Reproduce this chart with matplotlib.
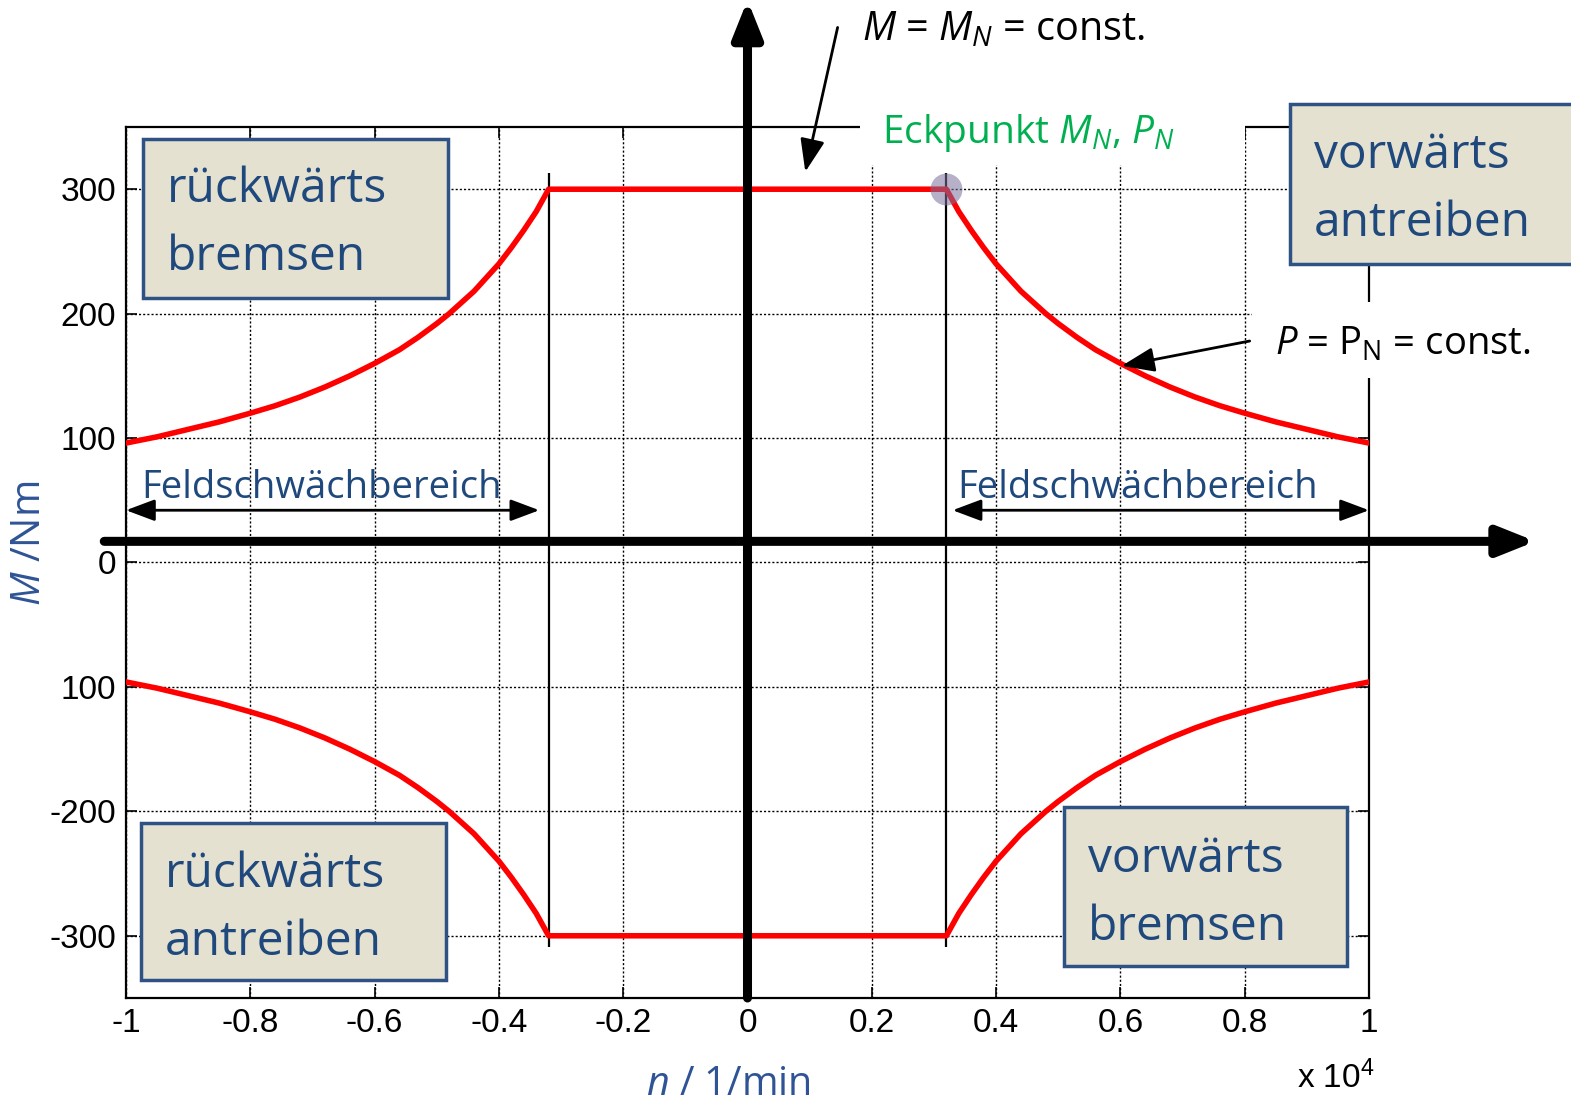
import matplotlib.pyplot as plt
import numpy as np
from matplotlib.patches import Rectangle

# Drehzahl in 10^4 1/min, Moment in Nm (rechte Haelfte)
n_eck = 0.32
M_N = 300
n_fw = [0.32, 0.34, 0.36, 0.38, 0.40, 0.42, 0.44, 0.46, 0.48, 0.50, 0.53, 0.56,
        0.60, 0.64, 0.68, 0.72, 0.76, 0.80, 0.85, 0.90, 0.95, 1.00]
M_fw = [300, 282, 267, 253, 240, 229, 218, 209, 200, 192, 181, 171,
        160, 150, 141, 133, 126, 120, 113, 107, 101, 96]

x_ticks = [-1, -0.8, -0.6, -0.4, -0.2, 0, 0.2, 0.4, 0.6, 0.8, 1]
x_labels = ['-1', '-0.8', '-0.6', '-0.4', '-0.2', '0', '0.2', '0.4', '0.6', '0.8', '1']
y_ticks = [300, 200, 100, 0, -100, -200, -300]
y_labels = ['300', '200', '100', '0', '100', '-200', '-300']

quadranten = [('rückwärts', 'bremsen'), ('vorwärts', 'antreiben'),
              ('rückwärts', 'antreiben'), ('vorwärts', 'bremsen')]

W, H = 1571, 1103
BLAU = '#1F497D'
LABEL_BLAU = '#2F5496'

plt.rcParams['font.family'] = ['Liberation Sans', 'DejaVu Sans']
plt.rcParams['mathtext.fontset'] = 'custom'
plt.rcParams['mathtext.rm'] = 'Open Sans'
plt.rcParams['mathtext.it'] = 'Open Sans:italic'


def px(x, y):
    # Pixel (von oben links) -> Figurkoordinaten
    return x / W, 1 - y / H


fig = plt.figure(figsize=(W / 100, H / 100), dpi=100)
ax = fig.add_axes([126 / W, 1 - 998 / H, (1369 - 126) / W, (998 - 127) / H])

n_r = np.array(n_fw)
M_r = np.array(M_fw)
n_all = np.concatenate([-n_r[::-1], n_r])
M_all = np.concatenate([M_r[::-1], M_r])

ax.plot(n_all, M_all, color='red', lw=4, zorder=4, solid_joinstyle='round')
ax.plot(n_all, -M_all, color='red', lw=4, zorder=4, solid_joinstyle='round')
ax.vlines([-n_eck, n_eck], -309, 313, color='k', lw=1.6, zorder=3)
ax.plot(n_eck, M_N, 'o', ms=23, color='#7a6f9c', alpha=0.55, mec='none', zorder=5)

ax.set_xlim(-1, 1)
ax.set_ylim(-350, 350)
ax.set_xticks(x_ticks)
ax.set_xticklabels(x_labels)
ax.set_yticks(y_ticks)
ax.set_yticklabels(y_labels)
ax.tick_params(direction='in', top=True, right=True, length=8, width=1.2,
               labelsize=24, pad=7)
ax.grid(True, color='k', ls=(0, (1.5, 1.5)), lw=1)
for s in ax.spines.values():
    s.set_linewidth(1.6)

# Achsenpfeile
pfeil = dict(arrowstyle='-|>,head_length=1.0,head_width=0.4', lw=6.5,
             color='k', mutation_scale=22, shrinkA=0, shrinkB=0)
ax.annotate('', xy=(0, 452), xytext=(0, -350), annotation_clip=False,
            arrowprops=pfeil, zorder=6)
ax.annotate('', xy=(1.268, 17), xytext=(-1.035, 17), annotation_clip=False,
            arrowprops=pfeil, zorder=6)

# Feldschwaechbereich
for x0, x1, xt in [(-1, -0.335, -0.975), (0.33, 1, 0.338)]:
    ax.annotate('', xy=(x1, 42), xytext=(x0, 42), annotation_clip=False,
                arrowprops=dict(arrowstyle='<|-|>,head_length=0.8,head_width=0.3', lw=2,
                                color='k', mutation_scale=22, shrinkA=0, shrinkB=0), zorder=6)
    ax.text(xt, 52, 'Feldschwächbereich', family='Open Sans', fontsize=27.5,
            color=BLAU, va='baseline', ha='left', zorder=6)

# Hinweise mit Pfeil
kl_pfeil = dict(arrowstyle='-|>,head_length=0.8,head_width=0.3', lw=2,
                color='k', mutation_scale=25, shrinkA=0, shrinkB=0)
ax.annotate('', xy=(0.093, 314), xytext=(0.145, 430), annotation_clip=False,
            arrowprops=kl_pfeil, zorder=6)
ax.annotate('', xy=(0.602, 158), xytext=(0.808, 178), annotation_clip=False,
            arrowprops=kl_pfeil, zorder=6)

# weisse Hintergruende der Beschriftungen (decken Rahmen ab)
fig.add_artist(Rectangle(px(860, 165), 385 / W, 65 / H, transform=fig.transFigure,
                         fc='white', ec='none', zorder=2))
fig.add_artist(Rectangle(px(1252, 378), 290 / W, 76 / H, transform=fig.transFigure,
                         fc='white', ec='none', zorder=2))

fig.text(*px(862, 40), r'$M$ = $M_N$ = const.', family='Open Sans', fontsize=28.5,
         color='k', va='baseline', zorder=3)
fig.text(*px(882, 143), r'Eckpunkt $M_N$, $P_N$', family='Open Sans', fontsize=28,
         color='#00B050', va='baseline', zorder=3)
fig.text(*px(1275, 355), r'$P$ = $\mathrm{P}_\mathrm{N}$ = const.', family='Open Sans',
         fontsize=27.5, color='k', va='baseline', zorder=3)

# Quadranten-Kaesten
kaesten = [(143, 139, 305, 159, 167, 202, 270),
           (1290, 104, 300, 160, 1314, 168, 236),
           (141, 823, 305, 157, 165, 887, 955),
           (1064, 807, 283, 159, 1088, 872, 940)]
for (bx, by, bw, bh, tx, ty1, ty2), (z1, z2) in zip(kaesten, quadranten):
    fig.add_artist(Rectangle(px(bx, by + bh), bw / W, bh / H, transform=fig.transFigure,
                             fc='#E5E1D1', ec='#2E5283', lw=2.5, zorder=7))
    fig.text(*px(tx, ty1), z1, family='Open Sans', fontsize=34.5, color=BLAU,
             va='baseline', zorder=8)
    fig.text(*px(tx, ty2), z2, family='Open Sans', fontsize=34.5, color=BLAU,
             va='baseline', zorder=8)

# Achsenbeschriftungen
fig.text(*px(728, 1095), r'$n$ / 1/min', family='Open Sans', fontsize=28.5,
         color=LABEL_BLAU, ha='center', va='baseline')
fig.text(*px(30, 543), r'$M$ /Nm', family='Open Sans', fontsize=29,
         color=LABEL_BLAU, ha='center', va='center', rotation=90)
fig.text(*px(1297, 1088), r'x $\mathregular{10^4}$', fontsize=24, color='k', va='baseline')

fig.savefig('out.png', dpi=100)
